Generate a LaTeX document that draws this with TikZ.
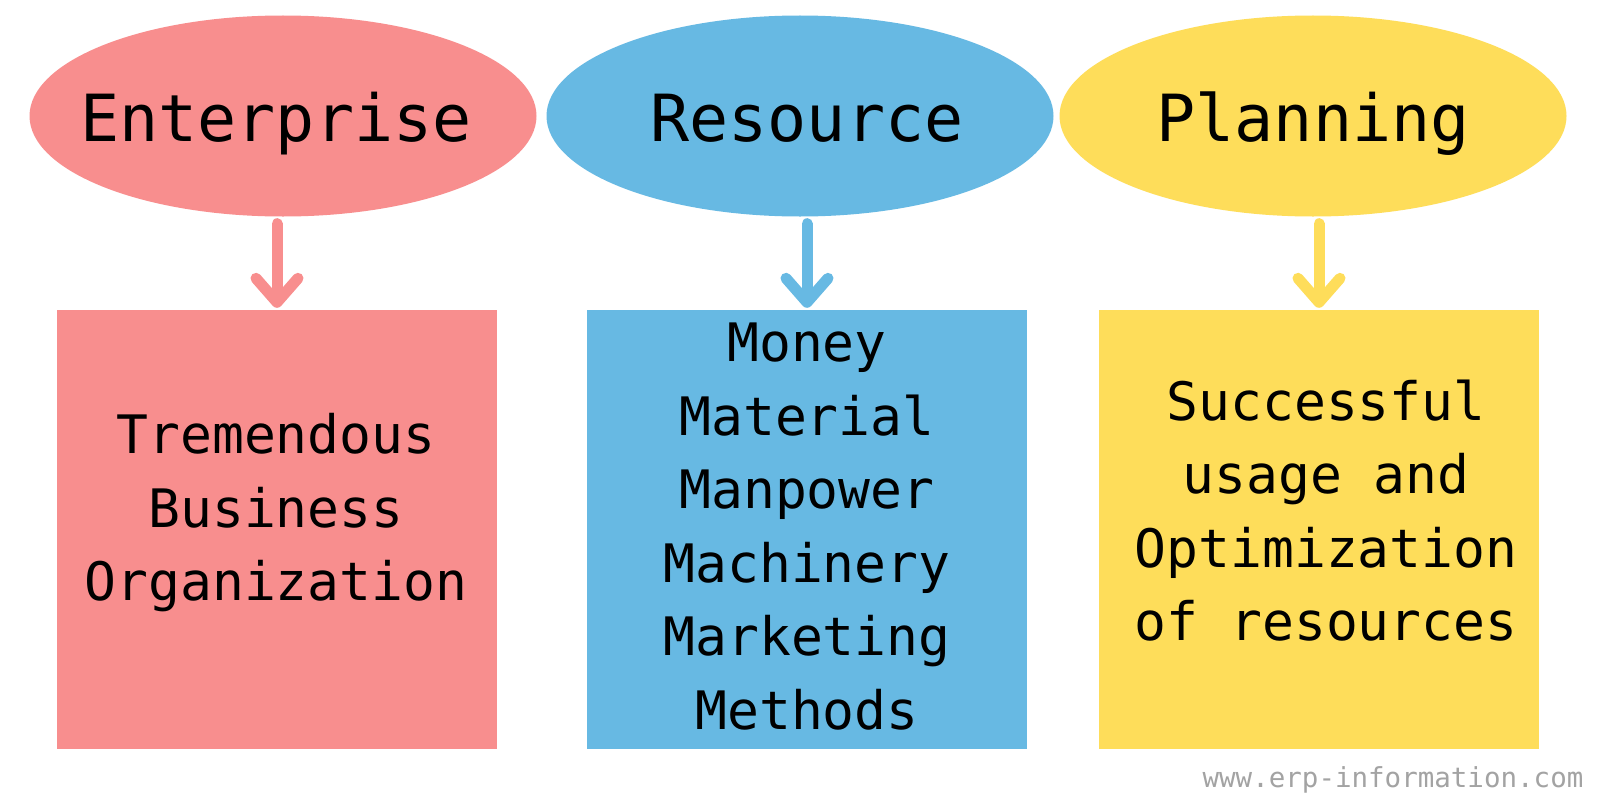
\documentclass[tikz,border=0pt]{standalone}
\usepackage{fontspec}
\setmonofont{DejaVu Sans Mono}
\usetikzlibrary{arrows.meta, shapes.geometric}
\definecolor{erppink}{HTML}{F88E8E}
\definecolor{erpblue}{HTML}{67B9E3}
\definecolor{erpyellow}{HTML}{FEDD5A}
\definecolor{sitegray}{HTML}{A3A3A3}

\begin{document}
\begin{tikzpicture}[x=1pt, y=-1pt,
  oval/.style={ellipse, fill=#1, minimum width=507pt, minimum height=201pt, inner sep=0pt},
  title/.style={anchor=base, inner sep=0pt, font=\ttfamily\fontsize{65}{65}\selectfont},
  card/.style={rectangle, fill=#1, minimum width=440pt, minimum height=439pt, inner sep=0pt},
  words/.style={align=center, inner sep=0pt, font=\ttfamily\fontsize{53}{73.5}\selectfont},
  link/.style={draw=#1, line width=11pt, line cap=round, shorten <=7pt, shorten >=2pt,
    -{Straight Barb[length=24pt, width=42pt, round]}}]
  \fill[white] (0,0) rectangle (1600,800);
  \useasboundingbox (0,0) rectangle (1600,800);

  \node[oval=erppink] (ent) at (283,116) {};
  \node[oval=erpblue] (res) at (800,116) {};
  \node[oval=erpyellow] (plan) at (1313,116) {};
  \node[title] (enttitle) at (276,141.7) {Enterprise};
  \node[title] (restitle) at (807,141.7) {Resource};
  \node[title] (plantitle) at (1313,141.7) {Planning};

  \node[card=erppink] (entbox) at (277,529.5) {};
  \node[card=erpblue] (resbox) at (807,529.5) {};
  \node[card=erpyellow] (planbox) at (1319,529.5) {};
  \node[words] (entlist) at (276,512.6) {Tremendous\\Business\\Organization};
  \node[words] (reslist) at (807,526.5) {Money\\Material\\Manpower\\Machinery\\Marketing\\Methods};
  \node[words] (planlist) at (1326,510.7) {Successful\\usage and\\Optimization\\of resources};

  \draw[link=erppink] (entbox.north |- ent.south) -- (entbox.north);
  \draw[link=erpblue] (resbox.north |- res.south) -- (resbox.north);
  \draw[link=erpyellow] (planbox.north |- plan.south) -- (planbox.north);

  \node[anchor=base, inner sep=0pt, text=sitegray, font=\ttfamily\fontsize{27.5}{27.5}\selectfont]
    (site) at (1393,787) {www.erp-information.com};
\end{tikzpicture}
\end{document}
